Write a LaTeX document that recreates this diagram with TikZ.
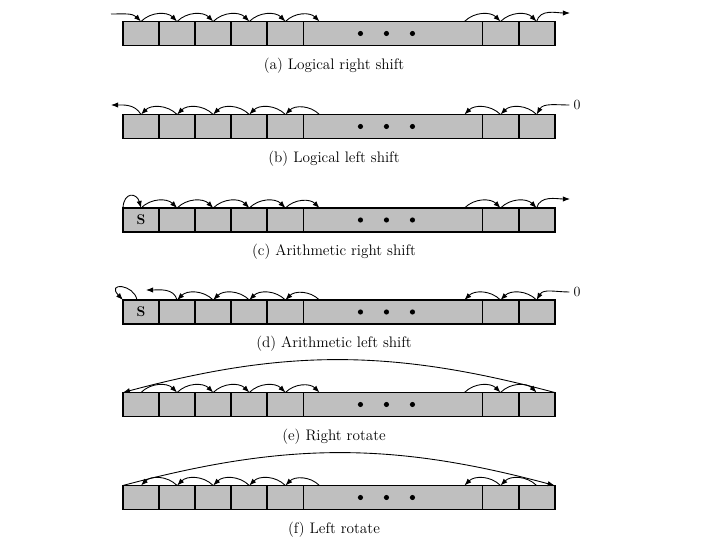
\documentclass[tikz,border=0pt]{standalone}
\usetikzlibrary{positioning, arrows.meta, calc}

\begin{document}
\begin{tikzpicture}[
    x=0.03cm, y=-0.03cm,
    >={Latex[length=6pt,width=4.5pt]},
    cell/.style={draw, fill=gray!50, line width=1.6pt, outer sep=0pt, inner sep=0pt, minimum width=1.083cm, minimum height=0.72cm},
    midcell/.style={cell, minimum width=5.37cm},
    caption/.style={font=\fontsize{13}{15}\selectfont},
    bitlabel/.style={font=\fontsize{12}{14}\selectfont},
    hop/.style={->, line width=0.75pt},
    every edge/.style={draw, hop}
]
    \useasboundingbox (0,0) rectangle (720,540);

    % the six registers
    \foreach \row/\y/\txt in {a/33.5/{(a) Logical right shift},
                              b/126.5/{(b) Logical left shift},
                              c/220/{(c) Arithmetic right shift},
                              d/312/{(d) Arithmetic left shift},
                              e/404.5/{(e) Right rotate},
                              f/497.5/{(f) Left rotate}} {
        \node[cell] (\row1) at (141,\y) {};
        \node[cell, right=0pt of \row1] (\row2) {};
        \node[cell, right=0pt of \row2] (\row3) {};
        \node[cell, right=0pt of \row3] (\row4) {};
        \node[cell, right=0pt of \row4] (\row5) {};
        \node[midcell, right=0pt of \row5] (\row-mid) {};
        \node[cell, right=0pt of \row-mid] (\row6) {};
        \node[cell, right=0pt of \row6] (\row7) {};
        \node[caption] (\row-cap) at (334,\y+32) {\txt};
        \coordinate (\row-ml) at ($(\row-mid.north west)+(16,0)$);
        \coordinate (\row-mr) at ($(\row-mid.north east)+(-18,0)$);
        \foreach \dx in {57,83,109}
            \fill ($(\row-mid.west)+(\dx,0)$) circle[radius=2.2pt];
    }

    \node[font=\bfseries\large] (c-s) at (c1) {S};
    \node[font=\bfseries\large] (d-s) at (d1) {S};

    % shifts to the right
    \foreach \row in {a,c,e} {
        \path (\row1.north) edge[bend left=45] (\row2.north)
              (\row2.north) edge[bend left=45] (\row3.north)
              (\row3.north) edge[bend left=45] (\row4.north)
              (\row4.north) edge[bend left=45] (\row5.north)
              (\row5.north) edge[bend left=45] (\row-ml)
              (\row-mr) edge[bend left=45] (\row6.north)
              (\row6.north) edge[bend left=45] (\row7.north);
    }

    % shifts to the left
    \foreach \row in {b,d,f} {
        \path (\row3.north) edge[bend right=45] (\row2.north)
              (\row4.north) edge[bend right=45] (\row3.north)
              (\row5.north) edge[bend right=45] (\row4.north)
              (\row-ml) edge[bend right=45] (\row5.north)
              (\row6.north) edge[bend right=45] (\row-mr)
              (\row7.north) edge[bend right=45] (\row6.north);
    }
    \path (b2.north) edge[bend right=45] (b1.north)
          (f2.north) edge[bend right=45] (f1.north);

    % (a)
    \coordinate (a-in) at (111,14);
    \coordinate (a-out) at (570,13);
    \draw[hop] (a-in) to[out=0,in=135] (a1.north);
    \draw[hop] (a7.north) to[out=75,in=180] (a-out);

    % (b)
    \coordinate (b-out) at (111,105);
    \node[bitlabel] (b-zero) at (577,105) {0};
    \draw[hop] (b1.north) to[out=120,in=0] (b-out);
    \draw[hop] (b-zero) to[out=180,in=60] (b7.north);

    % (c)
    \coordinate (c-out) at (570,199);
    \draw[hop] (c1.north west) .. controls (124,191) and (137,193) .. (c1.north);
    \draw[hop] (c7.north) to[out=75,in=180] (c-out);

    % (d)
    \coordinate (d-lost) at (146,290);
    \node[bitlabel] (d-zero) at (577,292) {0};
    \draw[hop] ($(d1.north)+(-4,0)$) .. controls (134,284) and (106,282) .. (d1.north west);
    \draw[hop] (d2.north) to[out=105,in=0] (d-lost);
    \draw[hop] (d-zero) to[out=180,in=60] (d7.north);

    % (e) and (f)
    \path (e7.north east) edge[bend right=15] (e1.north west)
          (f1.north west) edge[bend left=15] (f7.north east);
\end{tikzpicture}
\end{document}
